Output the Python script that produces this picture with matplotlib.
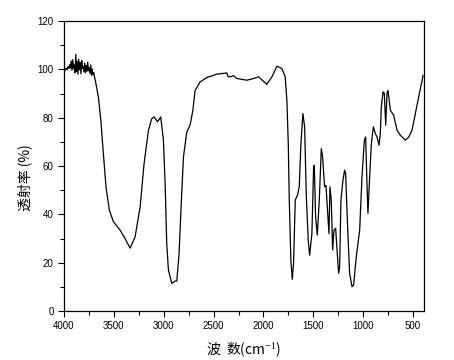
import numpy as np
import matplotlib.pyplot as plt
from matplotlib.ticker import MultipleLocator

plt.rcParams['mathtext.fontset'] = 'custom'
plt.rcParams['mathtext.rm'] = 'Liberation Serif'

# noisy baseline 4000-3700
noise_x = [4000, 3990, 3980, 3970, 3960, 3950, 3942, 3935, 3928, 3920, 3912, 3905,
           3898, 3890, 3882, 3875, 3868, 3860, 3853, 3845, 3838, 3830, 3822, 3815,
           3808, 3800, 3792, 3785, 3778, 3770, 3762, 3755, 3748, 3740, 3732, 3725,
           3718, 3710, 3702, 3695]
noise_y = [98.9, 99.5, 100.4, 99.8, 101.2, 100.3, 102.0, 100.6, 103.5, 99.6, 104.0, 100.2,
           101.8, 98.6, 106.2, 99.2, 103.4, 98.0, 104.2, 99.8, 102.8, 98.2, 103.6, 100.4,
           101.2, 99.0, 102.6, 98.6, 101.6, 99.2, 103.0, 99.4, 100.6, 98.4, 101.8, 97.6,
           100.2, 97.8, 98.6, 97.0]

# rest of the spectrum
main_x = [3689, 3655, 3629, 3605, 3578, 3545, 3505, 3438, 3388, 3337, 3287, 3237,
          3197, 3153, 3120, 3097, 3063, 3030, 3003, 2986, 2970, 2953, 2919, 2886,
          2869, 2846, 2826, 2802, 2769, 2735, 2708, 2685, 2635, 2568, 2468, 2367,
          2355, 2334, 2300, 2267, 2166, 2100, 2049, 1966, 1915, 1865, 1840, 1815,
          1782, 1765, 1751, 1741, 1725, 1711, 1698, 1681, 1658, 1641, 1624, 1604,
          1587, 1571, 1551, 1537, 1514, 1497, 1490, 1477, 1460, 1440, 1420, 1407,
          1387, 1373, 1353, 1343, 1333, 1320, 1306, 1293, 1276, 1260, 1246, 1236,
          1223, 1203, 1186, 1176, 1156, 1136, 1112, 1096, 1069, 1035, 1012, 988,
          975, 965, 952, 935, 918, 898, 878, 861, 841, 828, 818, 801,
          788, 774, 761, 751, 727, 694, 660, 627, 577, 543, 510, 477,
          443, 420, 410, 400]
main_y = [96.0, 88.6, 78.0, 65.0, 51.0, 41.7, 37.0, 33.5, 30.0, 26.0, 30.7, 43.0,
          61.0, 74.8, 79.6, 80.3, 78.3, 80.3, 70.7, 52.8, 28.0, 17.0, 11.4, 12.4,
          12.4, 23.8, 43.0, 63.8, 74.0, 77.0, 83.0, 91.3, 94.8, 96.6, 98.0, 98.5,
          97.0, 96.9, 97.4, 96.2, 95.5, 96.2, 96.9, 93.8, 96.9, 101.3, 100.8, 100.3,
          96.9, 87.2, 69.3, 45.9, 21.0, 13.1, 19.7, 45.9, 48.0, 51.4, 69.3, 81.7,
          76.2, 48.6, 29.3, 23.1, 32.0, 59.7, 60.3, 39.0, 31.4, 45.9, 67.2, 63.8,
          51.4, 52.0, 39.0, 32.0, 51.4, 45.9, 25.2, 33.5, 34.2, 23.8, 15.6, 18.3,
          45.9, 54.0, 58.3, 56.9, 34.9, 15.6, 10.1, 10.7, 22.5, 33.5, 55.5, 70.7,
          72.0, 56.9, 40.4, 55.5, 69.3, 76.2, 73.4, 72.0, 68.6, 73.4, 84.5, 90.7,
          90.0, 76.9, 90.0, 91.3, 83.0, 81.0, 74.8, 72.7, 70.7, 72.0, 74.8, 81.7,
          88.6, 93.4, 95.0, 97.5]

wavenumber = noise_x + main_x
transmittance = noise_y + main_y

fig = plt.figure(figsize=(4.54, 3.6), dpi=100)
ax = fig.add_axes([64/454, 1-311/360, 360/454, 290/360])

ax.plot(wavenumber, transmittance, color='black', lw=0.9)

ax.set_xlim(4000, 390)
ax.set_ylim(0, 120)
ax.xaxis.set_major_locator(MultipleLocator(500))
ax.xaxis.set_minor_locator(MultipleLocator(250))
ax.yaxis.set_major_locator(MultipleLocator(20))
ax.yaxis.set_minor_locator(MultipleLocator(10))
ax.tick_params(which='both', direction='out', top=False, right=False,
               labelsize=7, width=0.8)
ax.tick_params(which='major', length=4)
ax.tick_params(which='minor', length=3)
for lab in ax.get_xticklabels() + ax.get_yticklabels():
    lab.set_family('Liberation Sans')
for s in ax.spines.values():
    s.set_linewidth(0.9)

fam = ['Noto Sans CJK SC', 'DejaVu Sans']
fig.text(25/454, 1-178/360, '透射率 (%)', family=fam, fontsize=10,
         rotation=90, ha='center', va='center')
fig.text(243/454, 1-350/360, '波  数(cm$^{-1}$)', family=fam, fontsize=10,
         ha='center', va='center')

fig.savefig('out.png', dpi=100)
